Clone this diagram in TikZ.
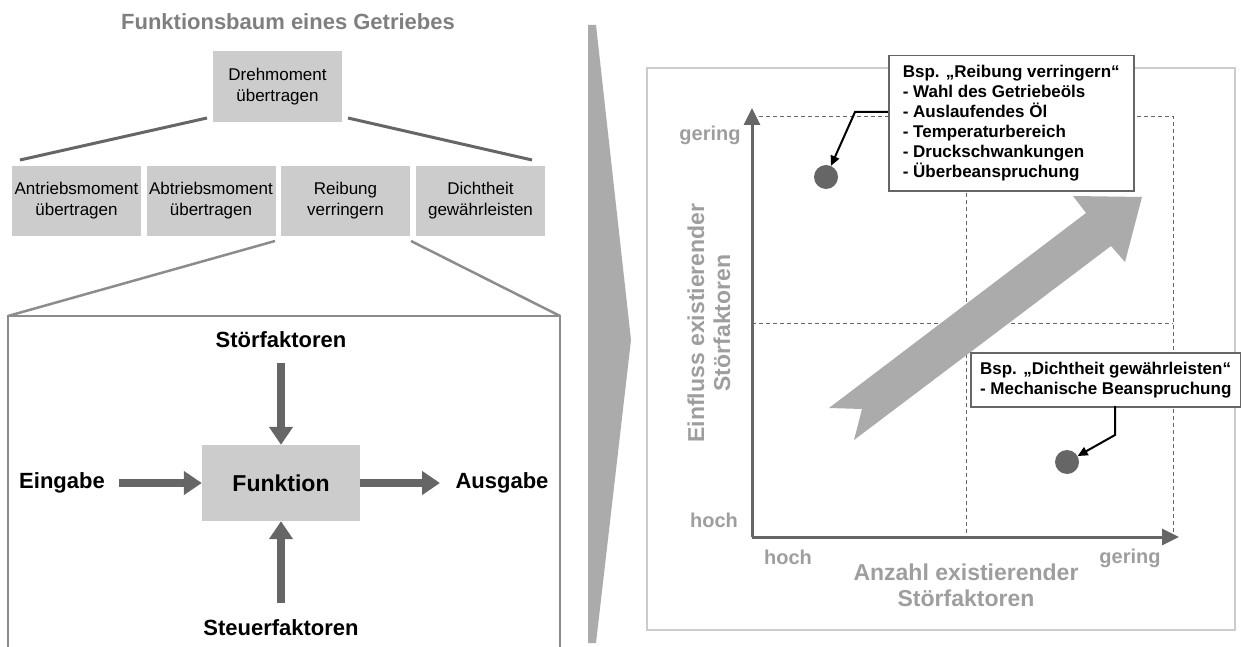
\documentclass[tikz,border=0pt]{standalone}
\usepackage{fontspec}
\setmainfont{Liberation Sans}
\usetikzlibrary{arrows.meta,calc}
\definecolor{boxgray}{HTML}{CCCCCC}
\definecolor{dark}{HTML}{666666}
\definecolor{mid}{HTML}{8C8C8C}
\definecolor{chev}{HTML}{ABABAB}
\definecolor{lab}{HTML}{9E9E9E}
\definecolor{titlegray}{HTML}{7F7F7F}
\definecolor{framegray}{HTML}{CCCCCC}
\begin{document}
\begin{tikzpicture}[x=1pt,y=-1pt,
  treebox/.style={fill=boxgray, minimum width=129pt, minimum height=70pt, inner sep=0pt, align=center, font=\fontsize{17}{21}\selectfont},
  biglabel/.style={font=\bfseries\fontsize{22}{26}\selectfont, inner sep=0pt},
  fat/.style={dark, line width=8pt, -{Triangle[width=23pt,length=18pt]}},
  treeline/.style={dark, line width=3pt},
  fanline/.style={mid, line width=2.5pt},
  axis/.style={dark, line width=3pt, -{Triangle[width=16pt,length=17pt]}},
  grid/.style={dark, line width=0.9pt, dash pattern=on 4pt off 3pt},
  axlabel/.style={lab, font=\bfseries\fontsize{20}{24}\selectfont, inner sep=0pt},
  axtitle/.style={lab, font=\bfseries\fontsize{23}{26}\selectfont, align=center, inner sep=0pt},
  dot/.style={circle, fill=dark, minimum size=24pt, inner sep=0pt},
  callout/.style={draw=dark, line width=1.5pt, fill=white, align=left, font=\bfseries\fontsize{17}{20}\selectfont, anchor=north west, inner sep=0pt},
  callarrow/.style={black, line width=2pt, -{Triangle[width=9pt,length=10pt]}}
]
\useasboundingbox (0,0) rectangle (1241,647);

% ---------- left panel ----------
\node[font=\bfseries\fontsize{22}{26}\selectfont, text=titlegray] (title) at (288,22) {Funktionsbaum eines Getriebes};

\node[treebox, minimum height=71pt] (top) at (277.5,86.5) {Drehmoment\\übertragen};
\node[treebox] (b1) at (76.5,201) {Antriebsmoment\\übertragen};
\node[treebox] (b2) at (211,201) {Abtriebsmoment\\übertragen};
\node[treebox] (b3) at (345.5,201) {Reibung\\verringern};
\node[treebox] (b4) at (480.5,201) {Dichtheit\\gewährleisten};

\coordinate (tl1) at (207,118);
\coordinate (tl2) at (20,160);
\coordinate (tr1) at (348,118);
\coordinate (tr2) at (532,160);
\draw[treeline] (tl1) -- (tl2);
\draw[treeline] (tr1) -- (tr2);

\coordinate (fl1) at (275,241);
\coordinate (fl2) at (8,316);
\coordinate (fr1) at (411,241);
\coordinate (fr2) at (560,316);
\coordinate (bl) at (8,650);
\coordinate (br) at (560,650);
\draw[fanline] (fl1) -- (fl2);
\draw[fanline] (fr1) -- (fr2);
\draw[fanline] (bl) -- (fl2) -- (fr2) -- (br);

\node[fill=boxgray, minimum width=158pt, minimum height=76pt, inner sep=0pt, font=\bfseries\fontsize{23}{26}\selectfont] (funk) at (281,483) {Funktion};
\node[biglabel] (stoer) at (281,340) {Störfaktoren};
\node[biglabel] (steuer) at (281,628) {Steuerfaktoren};
\node[biglabel] (ein) at (62,483) {Eingabe};
\node[biglabel] (aus) at (502,483) {Ausgabe};

\coordinate (s1) at (281,363);
\coordinate (s2) at (281,603);
\coordinate (e1) at (119,483);
\coordinate (a1) at (440,483);
\draw[fat] (s1) -- (funk.north);
\draw[fat] (s2) -- (funk.south);
\draw[fat] (e1) -- (funk.west);
\draw[fat] (funk.east) -- (a1);

% ---------- separator chevron ----------
\fill[chev] (588,25) -- (596,25) -- (631,340) -- (596,643) -- (588,643) -- cycle;

% ---------- right panel ----------
\draw[framegray, line width=2.5pt] (647,68) rectangle (1235,630);

\draw[grid] (752,116) -- (1173,116) -- (1173,537);
\draw[grid] (966,116) -- (966,537);
\draw[grid] (752,323) -- (1173,323);

\coordinate (o) at (752,537);
\coordinate (ytip) at (752,108);
\coordinate (xtip) at (1179,537);
\draw[axis] (o) -- (ytip);
\draw[axis] (o) -- (xtip);

\node[axlabel] (yg) at (710,135) {gering};
\node[axlabel] (yh) at (714,520) {hoch};
\node[axlabel] (xh) at (788,557) {hoch};
\node[axlabel] (xg) at (1130,558) {gering};
\node[axtitle] (xt) at (966,585) {Anzahl existierender\\Störfaktoren};
\node[axtitle, rotate=90] (yt) at (709,323) {Einfluss existierender\\Störfaktoren};

\fill[chev] (829,408) -- (1086,213) -- (1073,196) -- (1142,197) -- (1125,262) -- (1111,246) -- (854,440) -- (862,409) -- cycle;

\node[dot] (d1) at (826,177) {};
\node[dot] (d2) at (1067,462) {};

\node[callout, minimum width=245pt, minimum height=135pt] (c1) at (888,55)
  {Bsp. „Reibung verringern“\\- Wahl des Getriebeöls\\- Auslaufendes Öl\\- Temperaturbereich\\- Druckschwankungen\\- Überbeanspruchung};
\node[callout, minimum width=270pt, minimum height=54pt] (c2) at (970,352)
  {Bsp. „Dichtheit gewährleisten“\\- Mechanische Beanspruchung};

\coordinate (k1a) at (888,112);
\coordinate (k1) at (855,112);
\draw[callarrow] (k1a) -- (k1) -- (d1);
\coordinate (k2a) at (1115,406);
\coordinate (k2) at (1115,435);
\draw[callarrow] (k2a) -- (k2) -- (d2);
\end{tikzpicture}
\end{document}
